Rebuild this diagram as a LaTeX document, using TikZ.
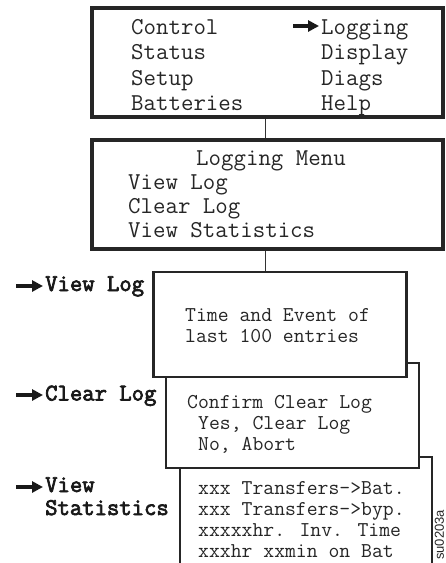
\documentclass[tikz,border=0pt]{standalone}
\usepackage{fontspec}
\newfontfamily\tagsans{Liberation Sans}
\newfontfamily\lblfont{Latin Modern Mono}[FakeBold=3]
\usetikzlibrary{arrows.meta}
\begin{document}
\begin{tikzpicture}[x=1pt,y=-1pt,
 bigbox/.style={draw=black!85, line width=3.3pt, fill=white, inner sep=0pt, rectangle},
 smallbox/.style={draw=black!85, line width=2.3pt, fill=white, inner sep=0pt, rectangle},
 bigtxt/.style={anchor=base west, inner sep=0pt, text=black!85, font=\ttfamily\fontsize{24.2}{27}\selectfont},
 smalltxt/.style={anchor=base west, inner sep=0pt, text=black!85, font=\ttfamily\fontsize{21.1}{24}\selectfont},
 lbl/.style={anchor=base west, inner sep=0pt, text=black!90, font=\lblfont\fontsize{24}{27}\selectfont},
 pointer/.style={line width=4pt, black!90, -{Triangle[length=11pt,width=11pt]}},
 link/.style={line width=1pt, black!80}]
\useasboundingbox (0,0) rectangle (446,563);
% boxes (back to front)
\node[smallbox, minimum width=252pt, minimum height=143pt] (b5) at (306,528.5) {};
\node[smallbox, minimum width=253pt, minimum height=105pt] (b4) at (292.5,415.5) {};
\node[smallbox, minimum width=253pt, minimum height=105pt] (b3) at (280,324.5) {};
\node[bigbox, minimum width=351pt, minimum height=109pt] (b1) at (267.5,62.5) {};
\node[bigbox, minimum width=351pt, minimum height=109pt] (b2) at (267.5,194.5) {};
% connectors
\coordinate (lx) at (265,0);
\draw[link] (b1.south -| lx) -- (b2.north -| lx);
\draw[link] (b2.south -| lx) -- (b3.north -| lx);
% main menu
\node[bigtxt] (t1) at (131,34) {Control};
\node[bigtxt] (t2) at (131,59.5) {Status};
\node[bigtxt] (t3) at (131,85) {Setup};
\node[bigtxt] (t4) at (131,110) {Batteries};
\node[bigtxt] (t5) at (321,34) {Logging};
\node[bigtxt] (t6) at (321,59.5) {Display};
\node[bigtxt] (t7) at (321,85) {Diags};
\node[bigtxt] (t8) at (321,110) {Help};
\coordinate (pa1) at (293,26);
\coordinate (pb1) at (319,26);
\draw[pointer] (pa1) -- (pb1);
% logging menu
\node[bigtxt] (m1) at (196,165) {Logging Menu};
\node[bigtxt] (m2) at (128,189.5) {View Log};
\node[bigtxt] (m3) at (128,213.5) {Clear Log};
\node[bigtxt] (m4) at (128,237) {View Statistics};
% view log box
\node[smalltxt] (v1) at (185,321.5) {Time and Event of};
\node[smalltxt] (v2) at (185,342) {last 100 entries};
% clear log box
\node[smalltxt] (c1) at (187,408) {Confirm Clear Log};
\node[smalltxt] (c2) at (198,429) {Yes, Clear Log};
\node[smalltxt] (c3) at (198,450) {No, Abort};
% statistics box
\node[smalltxt] (s1) at (198,494) {xxx Transfers->Bat.};
\node[smalltxt] (s2) at (198,515) {xxx Transfers->byp.};
\node[smalltxt] (s3) at (198,536) {xxxxxhr. Inv. Time};
\node[smalltxt] (s4) at (198,557) {xxxhr xxmin on Bat};
% left labels
\node[lbl] (l1) at (45,291) {View Log};
\node[lbl] (l2) at (45,400.5) {Clear Log};
\node[lbl] (l3) at (45,492) {View};
\node[lbl] (l4) at (45,515) {Statistics};
\coordinate (pa2) at (16,286);
\coordinate (pb2) at (43,286);
\coordinate (pa3) at (16,395);
\coordinate (pb3) at (43,395);
\coordinate (pa4) at (16,487);
\coordinate (pb4) at (43,487);
\draw[pointer] (pa2) -- (pb2);
\draw[pointer] (pa3) -- (pb3);
\draw[pointer] (pa4) -- (pb4);
% figure tag
\node[inner sep=0pt, rotate=90, text=black!85, font=\tagsans\fontsize{13}{15}\selectfont] (tag) at (439.5,535) {su0203a};
\end{tikzpicture}
\end{document}
